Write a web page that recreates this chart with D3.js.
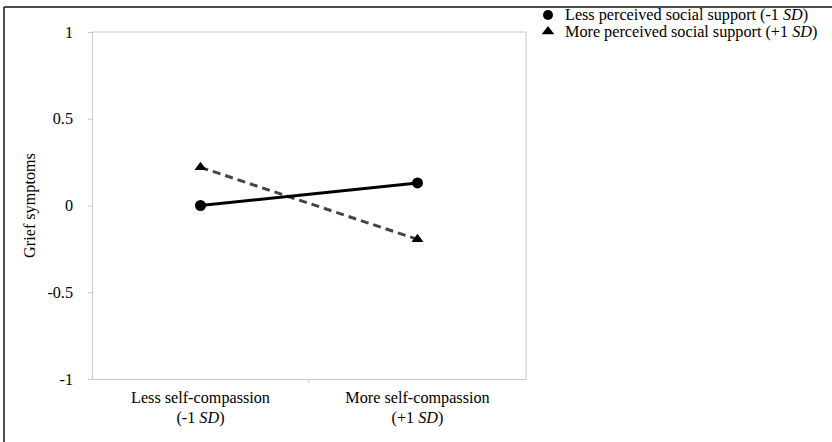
<!DOCTYPE html>
<html>
<head>
<meta charset="utf-8">
<script src="https://d3js.org/d3.v7.min.js"></script>
<style>
  body { margin: 0; background: #fff; }
  text { font-family: "Liberation Serif", "Times New Roman", serif; fill: #000; }
</style>
</head>
<body>
<div id="chart"></div>
<script>
// data
const categories = ["Less self-compassion|(-1 SD)", "More self-compassion|(+1 SD)"];
const lessSupport = [0.0, 0.13];
const moreSupport = [0.22, -0.195];
const yTicks = [1, 0.5, 0, -0.5, -1];
const seriesNames = ["Less perceived social support (-1 ", "More perceived social support (+1 "];

const W = 832, H = 442;
const margin = {top: 32, left: 92, bottom: 63, right: 306};
const fs = 16.2;

const svg = d3.select("#chart").append("svg")
  .attr("width", W).attr("height", H);

// frame (only top and left edges are visible)
svg.append("line").attr("x1", 4).attr("x2", W).attr("y1", 7).attr("y2", 7)
  .attr("stroke", "#111").attr("stroke-width", 1.5);
svg.append("line").attr("x1", 4).attr("x2", 4).attr("y1", 7).attr("y2", H)
  .attr("stroke", "#111").attr("stroke-width", 1.5);

const x = d3.scaleBand().domain(categories)
  .range([margin.left, W - margin.right]);
const y = d3.scaleLinear().domain([-1, 1])
  .range([H - margin.bottom, margin.top]);

const grey = "#c8c8c8";

// plot outline (top + right)
svg.append("line").attr("x1", margin.left).attr("x2", W - margin.right)
  .attr("y1", margin.top).attr("y2", margin.top).attr("stroke", grey);
svg.append("line").attr("x1", W - margin.right).attr("x2", W - margin.right)
  .attr("y1", margin.top).attr("y2", H - margin.bottom).attr("stroke", grey);

// y axis
const yAxis = svg.append("g")
  .attr("transform", `translate(${margin.left},0)`)
  .call(d3.axisLeft(y).tickValues(yTicks).tickSize(4).tickPadding(15)
    .tickFormat(d => d));
yAxis.attr("font-family", null).attr("font-size", null);
yAxis.select(".domain").attr("stroke", grey);
yAxis.selectAll(".tick line").attr("stroke", grey);
yAxis.selectAll(".tick text").attr("font-size", fs);

// x axis
const xAxis = svg.append("g")
  .attr("transform", `translate(0,${y(-1)})`)
  .call(d3.axisBottom(x).tickSize(0).tickFormat(""));
xAxis.select(".domain").attr("stroke", grey);
// tick between the two categories
svg.append("line")
  .attr("x1", x(categories[1])).attr("x2", x(categories[1]))
  .attr("y1", y(-1)).attr("y2", y(-1) + 4).attr("stroke", grey);

categories.forEach(c => {
  const [l1, l2] = c.split("|");
  const cx = x(c) + x.bandwidth() / 2;
  const t = svg.append("text").attr("x", cx).attr("y", y(-1) + 24)
    .attr("text-anchor", "middle").attr("font-size", fs);
  t.append("tspan").attr("x", cx).text(l1);
  const t2 = t.append("tspan").attr("x", cx).attr("dy", 20);
  const m = l2.match(/^(\(.1 )SD(\))$/);
  t2.append("tspan").text(m[1]);
  t2.append("tspan").attr("font-style", "italic").text("SD");
  t2.append("tspan").text(m[2]);
});

// y label
svg.append("text")
  .attr("transform", `translate(35,${y(0)}) rotate(-90)`)
  .attr("text-anchor", "middle").attr("font-size", fs)
  .text("Grief symptoms");

const px = d => x(d) + x.bandwidth() / 2;
const line = d3.line().x((d, i) => px(categories[i])).y(d => y(d));

// dashed series: more support
svg.append("path").datum(moreSupport).attr("d", line)
  .attr("fill", "none").attr("stroke", "#444").attr("stroke-width", 3)
  .attr("stroke-dasharray", "8,5");
// solid series: less support
svg.append("path").datum(lessSupport).attr("d", line)
  .attr("fill", "none").attr("stroke", "#000").attr("stroke-width", 3);

const tri = d3.symbol().type(d3.symbolTriangle).size(48);
svg.selectAll(".tri").data(moreSupport).enter().append("path")
  .attr("d", tri)
  .attr("transform", (d, i) => `translate(${px(categories[i])},${y(d)}) scale(1.15,0.9)`)
  .attr("fill", "#000");
svg.selectAll(".dot").data(lessSupport).enter().append("circle")
  .attr("cx", (d, i) => px(categories[i])).attr("cy", d => y(d))
  .attr("r", 5.5).attr("fill", "#000");

// legend
const lg = svg.append("g").attr("transform", "translate(548,15)");
seriesNames.forEach((s, i) => {
  const g = lg.append("g").attr("transform", `translate(0,${i * 16.5})`);
  if (i === 0) g.append("circle").attr("r", 5).attr("fill", "#000");
  else g.append("path").attr("d", d3.symbol().type(d3.symbolTriangle).size(48))
    .attr("transform", "scale(1.2,0.9)").attr("fill", "#000");
  const t = g.append("text").attr("x", 17).attr("y", 5).attr("font-size", fs);
  t.append("tspan").text(s);
  t.append("tspan").attr("font-style", "italic").text("SD");
  t.append("tspan").text(")");
});
</script>
</body>
</html>
